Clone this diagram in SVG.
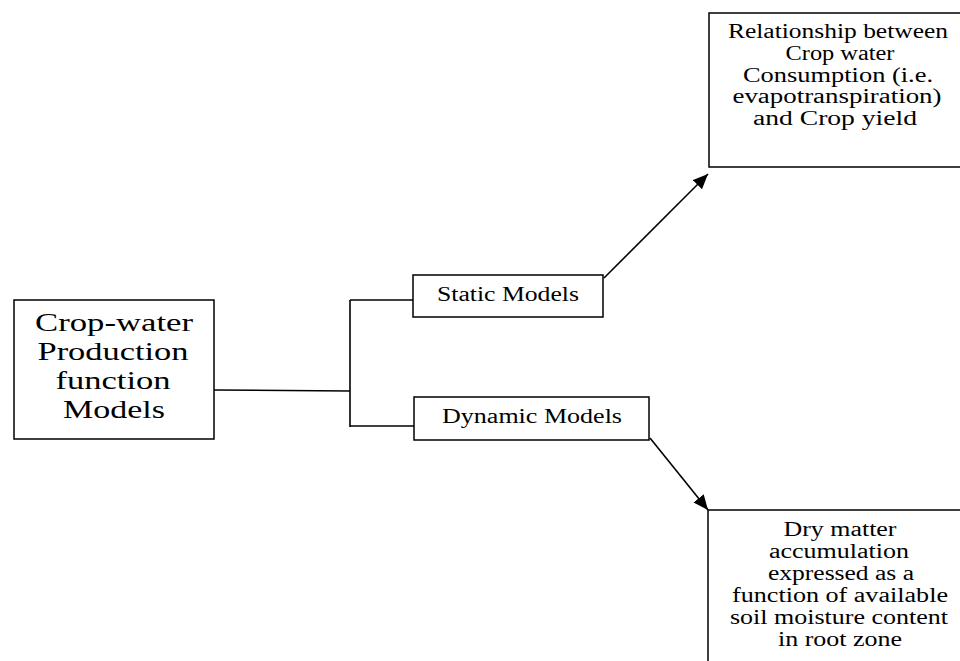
<svg xmlns="http://www.w3.org/2000/svg" width="960" height="661" viewBox="0 0 960 661">
  <style>
    .box { fill: #ffffff; stroke: #000000; stroke-width: 1.5; }
    .conn { fill: none; stroke: #000000; stroke-width: 1.6; }
    .t { font-family: "Liberation Serif", "Times New Roman", serif; fill: #000000; text-anchor: middle; }
    .s20 { font-size: 20px; }
    .s26 { font-size: 26px; }
  </style>
  <defs>
    <marker id="arrow" markerUnits="userSpaceOnUse" markerWidth="18" markerHeight="14" refX="15" refY="6.5" orient="auto">
      <path d="M0,0 L15,6.5 L0,13 Z" fill="#000000"/>
    </marker>
  </defs>
  <rect width="960" height="661" fill="#ffffff"/>

  <g id="connectors">
    <path class="conn" d="M214,390 L350,391"/>
    <path class="conn" d="M350,300 L350,427"/>
    <path class="conn" d="M350,300 L413,300"/>
    <path class="conn" d="M350,426 L414,426"/>
    <path class="conn" d="M604,278 L708,174" marker-end="url(#arrow)"/>
    <path class="conn" d="M650,438 L708,510" marker-end="url(#arrow)"/>
  </g>

  <g id="node-main">
    <rect class="box" x="14" y="300" width="200" height="139"/>
    <text class="t s26" x="114" y="331" textLength="158" lengthAdjust="spacingAndGlyphs">Crop-water</text>
    <text class="t s26" x="113" y="360" textLength="151" lengthAdjust="spacingAndGlyphs">Production</text>
    <text class="t s26" x="113" y="389" textLength="115" lengthAdjust="spacingAndGlyphs">function</text>
    <text class="t s26" x="114" y="418" textLength="102" lengthAdjust="spacingAndGlyphs">Models</text>
  </g>

  <g id="node-static">
    <rect class="box" x="413" y="275" width="190" height="42"/>
    <text class="t s20" x="508" y="301" textLength="142" lengthAdjust="spacingAndGlyphs">Static Models</text>
  </g>

  <g id="node-dynamic">
    <rect class="box" x="414" y="397" width="235" height="43"/>
    <text class="t s20" x="532" y="423" textLength="180" lengthAdjust="spacingAndGlyphs">Dynamic Models</text>
  </g>

  <g id="node-relationship">
    <rect class="box" x="709" y="13" width="260" height="154"/>
    <text class="t s20" x="838" y="38" textLength="220" lengthAdjust="spacingAndGlyphs">Relationship between</text>
    <text class="t s20" x="840" y="60" textLength="109" lengthAdjust="spacingAndGlyphs">Crop water</text>
    <text class="t s20" x="838" y="82" textLength="190" lengthAdjust="spacingAndGlyphs">Consumption (i.e.</text>
    <text class="t s20" x="837" y="103" textLength="209" lengthAdjust="spacingAndGlyphs">evapotranspiration)</text>
    <text class="t s20" x="835" y="125" textLength="164" lengthAdjust="spacingAndGlyphs">and Crop yield</text>
  </g>

  <g id="node-drymatter">
    <rect class="box" x="708" y="510" width="262" height="170"/>
    <text class="t s20" x="840" y="536" textLength="113" lengthAdjust="spacingAndGlyphs">Dry matter</text>
    <text class="t s20" x="839" y="558" textLength="140" lengthAdjust="spacingAndGlyphs">accumulation</text>
    <text class="t s20" x="841" y="580" textLength="146" lengthAdjust="spacingAndGlyphs">expressed as a</text>
    <text class="t s20" x="840" y="602" textLength="216" lengthAdjust="spacingAndGlyphs">function of available</text>
    <text class="t s20" x="839" y="624" textLength="218" lengthAdjust="spacingAndGlyphs">soil moisture content</text>
    <text class="t s20" x="840" y="646" textLength="124" lengthAdjust="spacingAndGlyphs">in root zone</text>
  </g>
</svg>
